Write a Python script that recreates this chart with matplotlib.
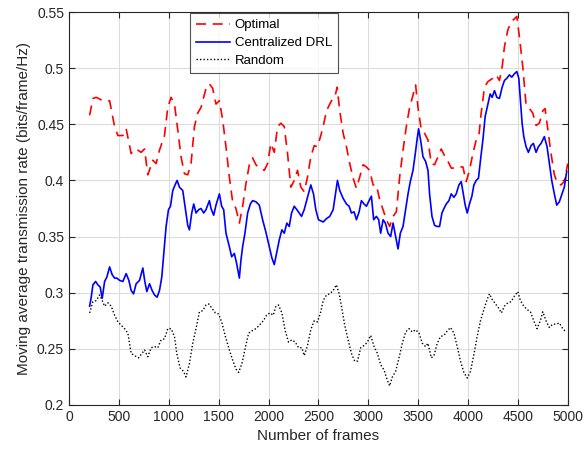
import matplotlib
matplotlib.use("Agg")
import matplotlib.pyplot as plt

plt.rcParams['font.family'] = ['Liberation Sans', 'DejaVu Sans']

opt_x = [207, 240, 273, 340, 407, 457, 490, 540, 573, 623, 673, 723, 757, 790, 840, 873, 907, 957, 990,
         1023, 1057, 1090, 1123, 1157, 1190, 1223, 1257, 1290, 1323, 1373, 1407, 1440, 1473, 1507, 1540,
         1573, 1607, 1640, 1673, 1707, 1740, 1773, 1807, 1840, 1873, 1907, 1957, 1990, 2023, 2057, 2090,
         2123, 2157, 2190, 2223, 2257, 2290, 2323, 2357, 2390, 2423, 2457, 2490, 2523, 2547, 2580, 2630,
         2663, 2687, 2713, 2747, 2780, 2813, 2847, 2880, 2913, 2947, 2980, 3013, 3047, 3080, 3113, 3147,
         3180, 3213, 3247, 3280, 3313, 3347, 3380, 3413, 3447, 3473, 3497, 3530, 3563, 3597, 3630, 3663,
         3697, 3730, 3763, 3797, 3830, 3880, 3913, 3947, 3980, 4013, 4047, 4080, 4107, 4130, 4163, 4197,
         4247, 4280, 4313, 4340, 4363, 4397, 4430, 4463, 4487, 4513, 4547, 4580, 4613, 4647, 4680, 4713,
         4747, 4770, 4797, 4830, 4863, 4897, 4930, 4963, 4997]
opt_y = [0.458, 0.473, 0.474, 0.471, 0.471, 0.448, 0.440, 0.440, 0.446, 0.424, 0.428, 0.425, 0.428, 0.405,
         0.418, 0.415, 0.427, 0.440, 0.465, 0.474, 0.468, 0.445, 0.421, 0.406, 0.405, 0.415, 0.448, 0.460,
         0.465, 0.482, 0.486, 0.482, 0.468, 0.471, 0.454, 0.430, 0.403, 0.381, 0.375, 0.362, 0.377, 0.397,
         0.414, 0.420, 0.414, 0.411, 0.409, 0.415, 0.433, 0.425, 0.448, 0.451, 0.448, 0.424, 0.394, 0.400,
         0.409, 0.394, 0.390, 0.403, 0.421, 0.431, 0.430, 0.440, 0.448, 0.462, 0.471, 0.474, 0.483, 0.462,
         0.442, 0.430, 0.415, 0.402, 0.393, 0.403, 0.414, 0.412, 0.409, 0.396, 0.396, 0.383, 0.374, 0.365,
         0.359, 0.368, 0.372, 0.403, 0.427, 0.448, 0.465, 0.476, 0.485, 0.465, 0.445, 0.442, 0.436, 0.415,
         0.414, 0.421, 0.428, 0.422, 0.417, 0.411, 0.411, 0.412, 0.412, 0.399, 0.409, 0.424, 0.436, 0.440,
         0.460, 0.483, 0.488, 0.491, 0.494, 0.489, 0.501, 0.519, 0.534, 0.541, 0.544, 0.546, 0.528, 0.501,
         0.467, 0.464, 0.460, 0.449, 0.451, 0.462, 0.464, 0.446, 0.424, 0.405, 0.397, 0.396, 0.399, 0.415]

drl_x = [207, 223, 240, 267, 290, 313, 333, 357, 380, 407, 433, 457, 480, 507, 540, 573, 600, 623, 647, 673,
         707, 740, 760, 780, 807, 833, 857, 883, 907, 930, 950, 973, 997, 1017, 1040, 1063, 1083, 1107,
         1140, 1167, 1190, 1207, 1230, 1250, 1273, 1300, 1323, 1350, 1373, 1407, 1423, 1450, 1473, 1507,
         1530, 1550, 1573, 1607, 1630, 1657, 1680, 1707, 1723, 1740, 1763, 1790, 1817, 1840, 1873, 1907,
         1940, 1973, 2007, 2033, 2057, 2080, 2107, 2133, 2157, 2183, 2207, 2230, 2257, 2283, 2307, 2330,
         2357, 2390, 2423, 2450, 2473, 2500, 2547, 2580, 2613, 2647, 2670, 2690, 2713, 2747, 2780, 2807,
         2830, 2857, 2880, 2907, 2930, 2957, 2980, 3007, 3030, 3053, 3080, 3103, 3123, 3147, 3170, 3197,
         3223, 3247, 3273, 3297, 3320, 3347, 3373, 3397, 3420, 3447, 3470, 3487, 3503, 3523, 3547, 3573,
         3597, 3613, 3637, 3663, 3687, 3713, 3737, 3757, 3780, 3807, 3830, 3857, 3880, 3907, 3930, 3947,
         3970, 3990, 4013, 4037, 4057, 4080, 4103, 4123, 4147, 4170, 4197, 4220, 4240, 4263, 4287, 4313,
         4340, 4363, 4387, 4413, 4437, 4463, 4487, 4507, 4523, 4540, 4557, 4580, 4603, 4630, 4653, 4680,
         4703, 4730, 4763, 4790, 4813, 4837, 4863, 4887, 4913, 4940, 4963, 4987]
drl_y = [0.288, 0.296, 0.307, 0.310, 0.307, 0.305, 0.295, 0.310, 0.314, 0.323, 0.316, 0.313, 0.313, 0.311,
         0.310, 0.317, 0.311, 0.302, 0.299, 0.308, 0.311, 0.322, 0.310, 0.301, 0.308, 0.302, 0.298, 0.296,
         0.302, 0.314, 0.335, 0.359, 0.374, 0.377, 0.391, 0.396, 0.400, 0.394, 0.391, 0.374, 0.360, 0.356,
         0.371, 0.379, 0.371, 0.374, 0.375, 0.371, 0.374, 0.382, 0.375, 0.369, 0.378, 0.388, 0.377, 0.374,
         0.353, 0.341, 0.332, 0.335, 0.326, 0.313, 0.329, 0.341, 0.353, 0.371, 0.379, 0.382, 0.381, 0.378,
         0.365, 0.354, 0.341, 0.331, 0.325, 0.335, 0.347, 0.356, 0.353, 0.362, 0.359, 0.371, 0.377, 0.374,
         0.371, 0.368, 0.374, 0.385, 0.396, 0.388, 0.374, 0.365, 0.363, 0.366, 0.368, 0.374, 0.388, 0.400,
         0.391, 0.384, 0.379, 0.377, 0.371, 0.372, 0.365, 0.372, 0.382, 0.379, 0.377, 0.382, 0.386, 0.365,
         0.368, 0.365, 0.353, 0.365, 0.362, 0.353, 0.350, 0.362, 0.350, 0.339, 0.353, 0.359, 0.374, 0.388,
         0.399, 0.409, 0.424, 0.436, 0.446, 0.436, 0.421, 0.417, 0.409, 0.388, 0.368, 0.360, 0.359, 0.359,
         0.371, 0.375, 0.379, 0.382, 0.388, 0.385, 0.388, 0.396, 0.399, 0.390, 0.378, 0.371, 0.379, 0.386,
         0.396, 0.400, 0.402, 0.418, 0.436, 0.457, 0.468, 0.477, 0.474, 0.480, 0.474, 0.473, 0.483, 0.489,
         0.491, 0.494, 0.492, 0.495, 0.497, 0.491, 0.471, 0.451, 0.439, 0.430, 0.425, 0.431, 0.433, 0.425,
         0.430, 0.433, 0.439, 0.430, 0.415, 0.400, 0.388, 0.378, 0.381, 0.388, 0.394, 0.408]

rnd_x = [207, 240, 273, 307, 333, 357, 390, 423, 457, 490, 523, 557, 590, 623, 657, 697, 723, 757, 790, 823,
         857, 890, 923, 957, 990, 1023, 1057, 1080, 1113, 1147, 1173, 1207, 1240, 1273, 1307, 1340, 1373,
         1400, 1433, 1467, 1500, 1533, 1567, 1607, 1640, 1673, 1700, 1733, 1767, 1800, 1833, 1873, 1907,
         1947, 1980, 2013, 2047, 2073, 2100, 2133, 2167, 2200, 2233, 2267, 2300, 2333, 2357, 2390, 2423,
         2457, 2490, 2523, 2547, 2580, 2613, 2647, 2680, 2707, 2730, 2763, 2797, 2830, 2863, 2890, 2923,
         2957, 2990, 3023, 3057, 3090, 3123, 3157, 3190, 3213, 3240, 3273, 3307, 3340, 3373, 3407, 3440,
         3473, 3507, 3540, 3573, 3597, 3630, 3657, 3690, 3723, 3757, 3790, 3823, 3857, 3890, 3923, 3957,
         3990, 4023, 4057, 4090, 4123, 4157, 4190, 4213, 4240, 4273, 4307, 4333, 4363, 4397, 4430, 4463,
         4497, 4523, 4557, 4590, 4623, 4657, 4690, 4723, 4747, 4780, 4813, 4847, 4880, 4913, 4947, 4980]
rnd_y = [0.282, 0.292, 0.293, 0.298, 0.293, 0.288, 0.291, 0.288, 0.280, 0.274, 0.271, 0.268, 0.264, 0.246,
         0.244, 0.242, 0.245, 0.249, 0.243, 0.251, 0.252, 0.251, 0.258, 0.259, 0.268, 0.268, 0.261, 0.246,
         0.233, 0.230, 0.225, 0.237, 0.255, 0.268, 0.283, 0.284, 0.289, 0.290, 0.286, 0.282, 0.281, 0.273,
         0.261, 0.249, 0.240, 0.232, 0.229, 0.237, 0.251, 0.264, 0.266, 0.268, 0.271, 0.275, 0.280, 0.282,
         0.280, 0.288, 0.289, 0.282, 0.266, 0.256, 0.258, 0.256, 0.251, 0.251, 0.244, 0.253, 0.267, 0.275,
         0.274, 0.283, 0.293, 0.298, 0.299, 0.302, 0.307, 0.299, 0.288, 0.271, 0.258, 0.246, 0.239, 0.239,
         0.251, 0.253, 0.256, 0.262, 0.252, 0.246, 0.236, 0.231, 0.222, 0.217, 0.225, 0.230, 0.242, 0.255,
         0.265, 0.268, 0.265, 0.267, 0.264, 0.255, 0.252, 0.255, 0.242, 0.244, 0.255, 0.261, 0.262, 0.266,
         0.269, 0.264, 0.252, 0.239, 0.229, 0.224, 0.230, 0.245, 0.261, 0.275, 0.285, 0.294, 0.299, 0.294,
         0.290, 0.286, 0.282, 0.288, 0.291, 0.292, 0.297, 0.301, 0.293, 0.288, 0.285, 0.283, 0.275, 0.268,
         0.275, 0.283, 0.275, 0.269, 0.272, 0.272, 0.273, 0.268, 0.265]

x_ticks = [0, 500, 1000, 1500, 2000, 2500, 3000, 3500, 4000, 4500, 5000]
y_ticks = [0.2, 0.25, 0.3, 0.35, 0.4, 0.45, 0.5, 0.55]
y_tick_labels = ['0.2', '0.25', '0.3', '0.35', '0.4', '0.45', '0.5', '0.55']

fig = plt.figure(figsize=(5.86, 4.55), dpi=100)
ax = fig.add_axes([0.1177, 0.1099, 0.8516, 0.8637])

ax.plot(opt_x, opt_y, color='red', linestyle=(0, (6, 4)), linewidth=1.2, label='Optimal')
ax.plot(drl_x, drl_y, color='blue', linestyle='-', linewidth=1.2, label='Centralized DRL')
ax.plot(rnd_x, rnd_y, color='black', linestyle=(0, (1, 1.5)), linewidth=1.0, label='Random')

ax.set_xlim(0, 5000)
ax.set_ylim(0.2, 0.55)
ax.set_xticks(x_ticks)
ax.set_yticks(y_ticks)
ax.set_yticklabels(y_tick_labels)
ax.grid(True, color='#dcdcdc', linewidth=0.8)
ax.set_axisbelow(True)
ax.tick_params(direction='in', top=True, right=True, labelsize=10, length=4, color='#262626',
               labelcolor='#262626')
for s in ax.spines.values():
    s.set_color('#262626')
    s.set_linewidth(0.8)

ax.set_xlabel('Number of frames', fontsize=11, color='#262626')
ax.set_ylabel('Moving average transmission rate (bits/frame/Hz)', fontsize=11, color='#262626')

leg = ax.legend(loc='upper left', bbox_to_anchor=(0.2425, 0.997), fontsize=9.5, frameon=True,
                fancybox=False, edgecolor='#262626', borderpad=0.45, labelspacing=0.42,
                handlelength=2.6, handletextpad=0.35, borderaxespad=0)
leg.get_frame().set_linewidth(0.8)

fig.savefig('out.png', dpi=100)
